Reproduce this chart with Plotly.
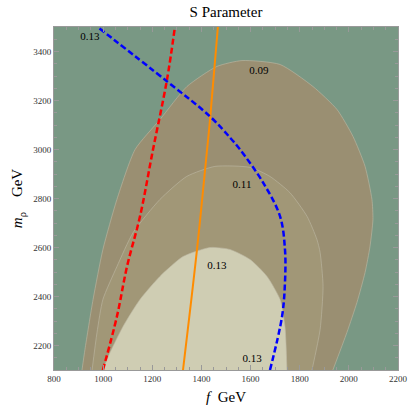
import plotly.graph_objects as go

# contour boundaries (f in GeV, m_rho in GeV)
s09_f = [914, 926, 959, 999, 1056, 1130, 1231, 1341, 1463, 1565, 1720, 1854, 1952, 2017, 2066, 2094, 2098, 2086, 2066, 2033, 1992, 1935]
s09_m = [2100, 2184, 2388, 2592, 2796, 3000, 3122, 3257, 3339, 3363, 3347, 3257, 3163, 3053, 2931, 2796, 2714, 2604, 2498, 2376, 2253, 2100]

s11_f = [955, 975, 999, 1056, 1122, 1231, 1340, 1455, 1598, 1679, 1760, 1830, 1870, 1883, 1895, 1883, 1850]
s11_m = [2100, 2253, 2388, 2522, 2661, 2796, 2890, 2931, 2927, 2890, 2824, 2727, 2633, 2580, 2441, 2265, 2100]

s13_f = [999, 1028, 1081, 1150, 1231, 1325, 1435, 1516, 1598, 1667, 1720, 1740, 1748]
s13_m = [2100, 2171, 2278, 2388, 2482, 2563, 2600, 2592, 2551, 2482, 2388, 2278, 2100]

red_f = [999, 1056, 1097, 1150, 1203, 1260, 1292]
red_m = [2100, 2318, 2522, 2727, 3000, 3286, 3500]

orange_f = [1325, 1382, 1423, 1435, 1467]
orange_m = [2100, 2592, 3000, 3122, 3500]

blue_f = [1679, 1728, 1740, 1740, 1720, 1651, 1557, 1516, 1435, 1260, 975]
blue_m = [2100, 2318, 2457, 2592, 2727, 2865, 3000, 3049, 3135, 3278, 3502]

lab_text = ["0.13", "0.09", "0.11", "0.13", "0.13"]
lab_f = [946, 1634, 1565, 1463, 1606]
lab_m = [3457, 3318, 2853, 2522, 2143]

serif = "Liberation Serif, Times New Roman, serif"

fig = go.Figure()

regions = [
    (s09_f, s09_m, "#9a8f72"),
    (s11_f, s11_m, "#a19777"),
    (s13_f, s13_m, "#cfcdb3"),
]
for fx, my, col in regions:
    fig.add_trace(go.Scatter(x=fx, y=my, mode="lines", fill="toself", fillcolor=col,
                             line=dict(color="rgba(190,185,165,0.6)", width=1, shape="spline", smoothing=0.6),
                             hoverinfo="skip", showlegend=False))

fig.add_trace(go.Scatter(x=red_f, y=red_m, mode="lines",
                         line=dict(color="#ff0000", width=2.5, dash="6px,3px", shape="spline"), showlegend=False))
fig.add_trace(go.Scatter(x=orange_f, y=orange_m, mode="lines",
                         line=dict(color="#ff8c00", width=2, shape="spline"), showlegend=False))
fig.add_trace(go.Scatter(x=blue_f, y=blue_m, mode="lines",
                         line=dict(color="#0000ff", width=2.5, dash="6px,3px", shape="spline"), showlegend=False))

fig.add_trace(go.Scatter(x=lab_f, y=lab_m, mode="text", text=lab_text,
                         textfont=dict(family=serif, size=11, color="black"), showlegend=False))

fig.update_layout(
    width=409, height=414,
    margin=dict(l=54, r=11, t=27, b=44, autoexpand=False),
    paper_bgcolor="white", plot_bgcolor="#799884",
    title=dict(text="S Parameter", x=0.5, xref="paper", xanchor="center", y=0.985, yanchor="top",
               font=dict(family=serif, size=15, color="black")),
)
axis_common = dict(showgrid=False, zeroline=False, mirror="allticks", showline=True, automargin=False,
                   linecolor="#999999", linewidth=1, ticks="inside", ticklen=5, tickcolor="#999999",
                   tickfont=dict(family=serif, size=9, color="#333333"),
                   minor=dict(ticks="inside", ticklen=3, dtick=50, tickcolor="#999999"))
fig.update_xaxes(range=[800, 2200], dtick=200, tick0=800,
                 title=dict(text="<i>f</i>  GeV", font=dict(family=serif, size=15, color="black"), standoff=8),
                 **axis_common)
fig.update_yaxes(range=[2100, 3500], dtick=200, tick0=2200,
                 title=dict(text="<i>m</i><sub>ρ</sub>    GeV", font=dict(family=serif, size=15, color="black"), standoff=6),
                 **axis_common)

# drop the default page margin so the figure sits at the window's corner
fig.write_html("out.html", config={"displayModeBar": False},
               post_script="document.body.style.margin='0';")
